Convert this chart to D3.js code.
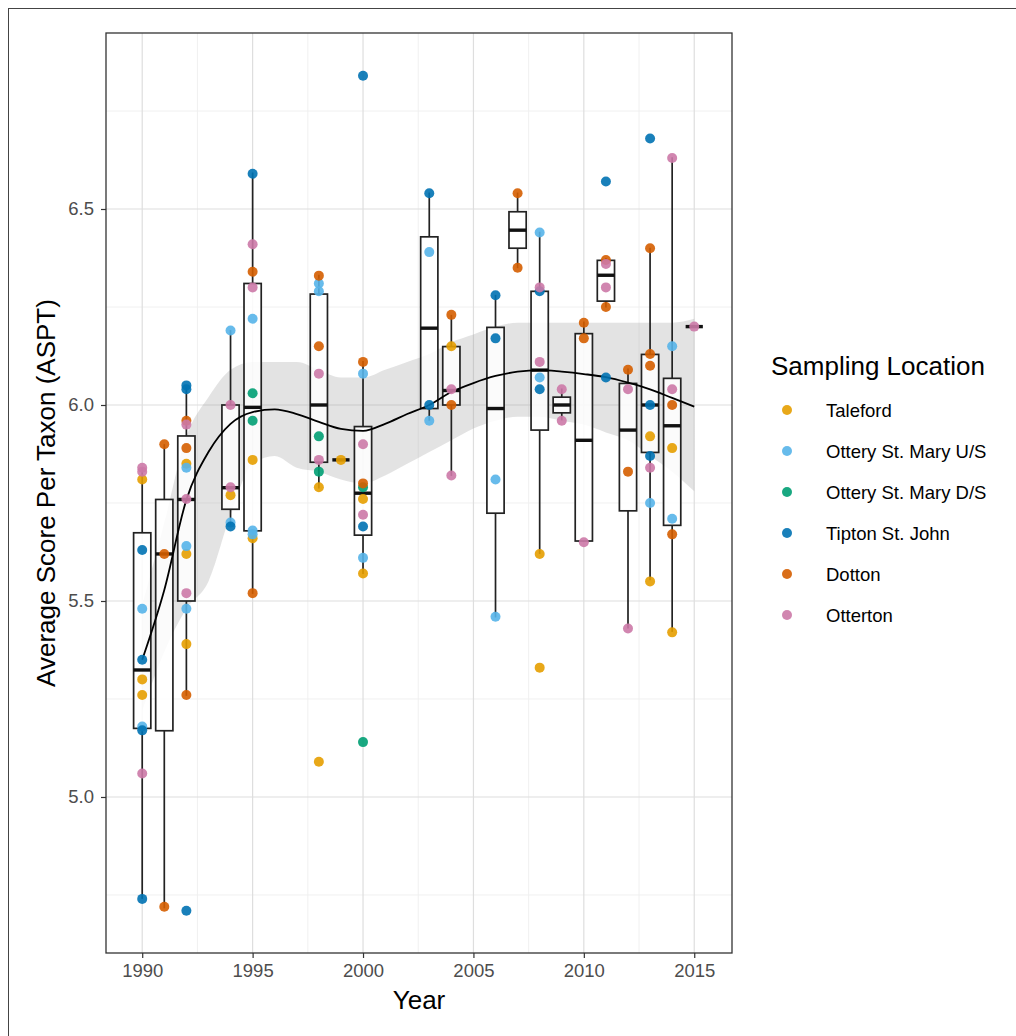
<!DOCTYPE html>
<html>
<head>
<meta charset="utf-8">
<script src="https://cdn.jsdelivr.net/npm/d3@7"></script>
<style>
  html, body { margin: 0; padding: 0; background: #fff; }
  svg { display: block; font-family: "Liberation Sans", Arial, sans-serif; }
</style>
</head>
<body>
<svg id="chart" width="1016" height="1036"></svg>
<script>
// ---------- data ----------
const sites = ["Taleford", "Ottery St. Mary U/S", "Ottery St. Mary D/S", "Tipton St. John", "Dotton", "Otterton"];
const siteColors = ["#E69F00", "#56B4E9", "#009E73", "#0072B2", "#D55E00", "#CC79A7"];

// observations: [year, ASPT]
const taleford = [[1990,5.81],[1990,5.30],[1990,5.26],[1992,5.85],[1992,5.62],[1992,5.39],[1994,5.77],[1995,5.86],[1995,5.66],
  [1998,5.79],[1998,5.09],[1999,5.86],[2000,5.76],[2000,5.57],[2004,6.15],[2008,5.62],[2008,5.33],[2013,5.92],[2013,5.55],[2014,5.89],[2014,5.42]];
const otteryUS = [[1990,5.48],[1990,5.18],[1992,5.84],[1992,5.64],[1992,5.48],[1994,6.19],[1994,5.70],[1995,6.22],[1995,5.68],[1995,5.67],
  [1998,6.31],[1998,6.29],[2000,6.08],[2000,5.61],[2003,6.39],[2003,5.96],[2006,5.81],[2006,5.46],[2008,6.44],[2008,6.07],[2013,5.75],[2014,6.15],[2014,5.71]];
const otteryDS = [[1995,6.03],[1995,5.96],[1998,5.92],[1998,5.83],[2000,5.79],[2000,5.14]];
const tipton = [[1990,5.63],[1990,5.35],[1990,5.17],[1990,4.74],[1992,6.05],[1992,6.04],[1992,4.71],[1994,5.69],[1995,6.59],
  [2000,6.84],[2000,5.69],[2003,6.54],[2003,6.00],[2006,6.28],[2006,6.17],[2008,6.29],[2008,6.04],[2011,6.57],[2011,6.07],[2013,6.68],[2013,6.00],[2013,5.87]];
const dotton = [[1991,5.90],[1991,5.62],[1991,4.72],[1992,5.96],[1992,5.89],[1992,5.26],[1995,6.34],[1995,5.52],[1998,6.33],[1998,6.15],
  [2000,6.11],[2000,5.80],[2004,6.23],[2004,6.00],[2007,6.54],[2007,6.35],[2010,6.21],[2010,6.17],[2011,6.37],[2011,6.25],
  [2012,6.09],[2012,5.83],[2013,6.40],[2013,6.13],[2013,6.10],[2014,6.00],[2014,5.67]];
const otterton = [[1990,5.84],[1990,5.83],[1990,5.06],[1992,5.95],[1992,5.76],[1992,5.52],[1994,6.00],[1994,5.79],[1995,6.41],[1995,6.30],
  [1998,6.08],[1998,5.86],[2000,5.90],[2000,5.72],[2004,6.04],[2004,5.82],[2008,6.30],[2008,6.11],[2009,6.04],[2009,5.96],[2010,5.65],
  [2011,6.36],[2011,6.30],[2012,6.04],[2012,5.43],[2013,5.84],[2014,6.04],[2014,6.63],[2015,6.20]];
const siteData = [taleford, otteryUS, otteryDS, tipton, dotton, otterton];

// box-plot statistics per year
const boxYears = [1990,1991,1992,1994,1995,1998,1999,2000,2003,2004,2006,2007,2008,2009,2010,2011,2012,2013,2014,2015];
const whiskerLow  = [4.740,4.716,5.258,5.694,5.518,5.787,5.860,5.569,5.960,5.819,5.458,6.349,5.620,5.961,5.653,6.249,5.430,5.553,5.421,6.200];
const q1          = [5.175,5.169,5.500,5.734,5.679,5.854,5.860,5.668,5.991,6.000,5.724,6.400,5.936,5.980,5.653,6.265,5.730,5.879,5.693,6.200];
const medians     = [5.324,5.620,5.759,5.789,5.994,6.000,5.860,5.775,6.196,6.037,5.991,6.446,6.089,6.000,5.910,6.331,5.936,6.000,5.947,6.200];
const q3          = [5.674,5.759,5.921,6.000,6.310,6.283,5.860,5.945,6.429,6.149,6.198,6.493,6.290,6.020,6.182,6.369,6.055,6.129,6.068,6.200];
const whiskerHigh = [5.840,5.900,6.045,6.191,6.593,6.332,5.860,6.112,6.542,6.230,6.281,6.542,6.442,6.042,6.213,6.375,6.093,6.401,6.632,6.200];

// loess smooth (fit and confidence band)
const smoothYears = [1990,1991,1992,1993,1994,1995,1996,1997,1998,1999,2000,2001,2002,2003,2004,2005,2006,2007,2008,2009,2010,2011,2012,2013,2014,2015];
const smoothFit = [5.350,5.528,5.758,5.880,5.952,5.982,5.989,5.977,5.957,5.939,5.934,5.952,5.977,6.000,6.033,6.056,6.074,6.085,6.089,6.085,6.079,6.071,6.057,6.040,6.018,5.996];
const smoothLo  = [5.22,5.37,5.48,5.55,5.72,5.85,5.87,5.84,5.83,5.81,5.80,5.82,5.85,5.88,5.91,5.94,5.96,5.97,5.97,5.96,5.95,5.93,5.91,5.87,5.83,5.78];
const smoothHi  = [5.49,5.70,5.92,6.02,6.09,6.11,6.11,6.11,6.09,6.07,6.07,6.09,6.11,6.13,6.16,6.18,6.20,6.21,6.21,6.21,6.21,6.21,6.21,6.21,6.21,6.22];

const xTicks = [1990,1995,2000,2005,2010,2015];
const xMinor = [1992.5,1997.5,2002.5,2007.5,2012.5];
const yTicks = [5.0,5.5,6.0,6.5];
const yMinor = [4.75,5.25,5.75,6.25,6.75];

// ---------- layout ----------
const svg = d3.select("#chart");
const P = {left: 106, right: 732, top: 33, bottom: 953};
const x = d3.scaleLinear().domain([1988.36, 2016.71]).range([P.left, P.right]);
const y = d3.scaleLinear().domain([4.602, 6.949]).range([P.bottom, P.top]);

// outer frame
svg.append("rect").attr("x", 8.5).attr("y", 8.5).attr("width", 1200).attr("height", 1200)
  .attr("fill", "none").attr("stroke", "#444").attr("stroke-width", 1);

const g = svg.append("g");
g.append("rect").attr("x", P.left).attr("y", P.top).attr("width", P.right-P.left).attr("height", P.bottom-P.top).attr("fill", "#fff");

// grid
g.selectAll(".ymin").data(yMinor).join("line")
  .attr("x1", P.left).attr("x2", P.right).attr("y1", d=>y(d)).attr("y2", d=>y(d))
  .attr("stroke", "#eeeeee").attr("stroke-width", 0.9);
g.selectAll(".xmin").data(xMinor).join("line")
  .attr("y1", P.top).attr("y2", P.bottom).attr("x1", d=>x(d)).attr("x2", d=>x(d))
  .attr("stroke", "#eeeeee").attr("stroke-width", 0.9);
g.selectAll(".ymaj").data(yTicks).join("line")
  .attr("x1", P.left).attr("x2", P.right).attr("y1", d=>y(d)).attr("y2", d=>y(d))
  .attr("stroke", "#dedede").attr("stroke-width", 1.2);
g.selectAll(".xmaj").data(xTicks).join("line")
  .attr("y1", P.top).attr("y2", P.bottom).attr("x1", d=>x(d)).attr("x2", d=>x(d))
  .attr("stroke", "#dedede").attr("stroke-width", 1.2);

// smooth ribbon
const smooth = smoothYears.map((yr,i)=>({yr, fit: smoothFit[i], lo: smoothLo[i], hi: smoothHi[i]}));
g.append("path").datum(smooth)
  .attr("d", d3.area().x(d=>x(d.yr)).y0(d=>y(d.lo)).y1(d=>y(d.hi)).curve(d3.curveMonotoneX))
  .attr("fill", "#999").attr("fill-opacity", 0.28);

// boxes
const boxes = boxYears.map((yr,i)=>({yr, lo: whiskerLow[i], q1: q1[i], med: medians[i], q3: q3[i], hi: whiskerHigh[i]}));
const bw = x(1990.39) - x(1990);
const bg = g.append("g");
boxes.forEach(b => {
  const cx = x(b.yr);
  bg.append("line").attr("x1", cx).attr("x2", cx).attr("y1", y(b.hi)).attr("y2", y(b.q3))
    .attr("stroke", "#222").attr("stroke-width", 1.7);
  bg.append("line").attr("x1", cx).attr("x2", cx).attr("y1", y(b.q1)).attr("y2", y(b.lo))
    .attr("stroke", "#222").attr("stroke-width", 1.7);
  bg.append("rect").attr("x", cx-bw).attr("y", y(b.q3)).attr("width", 2*bw).attr("height", Math.max(0, y(b.q1)-y(b.q3)))
    .attr("fill", "#fff").attr("fill-opacity", 0.85).attr("stroke", "#222").attr("stroke-width", 1.7);
  bg.append("line").attr("x1", cx-bw).attr("x2", cx+bw).attr("y1", y(b.med)).attr("y2", y(b.med))
    .attr("stroke", "#111").attr("stroke-width", 3.4);
});

// smooth line
g.append("path").datum(smooth)
  .attr("d", d3.line().x(d=>x(d.yr)).y(d=>y(d.fit)).curve(d3.curveMonotoneX))
  .attr("fill", "none").attr("stroke", "#000").attr("stroke-width", 1.8);

// points
siteData.forEach((arr, si) => {
  g.append("g").selectAll("circle").data(arr).join("circle")
    .attr("cx", d=>x(d[0])).attr("cy", d=>y(d[1])).attr("r", 5)
    .attr("fill", siteColors[si]).attr("fill-opacity", 0.9);
});

// panel border
g.append("rect").attr("x", P.left).attr("y", P.top).attr("width", P.right-P.left).attr("height", P.bottom-P.top)
  .attr("fill", "none").attr("stroke", "#333").attr("stroke-width", 1.3);

// axes
const xAxis = d3.axisBottom(x).tickValues(xTicks).tickFormat(d3.format("d")).tickSize(5).tickPadding(6);
const xa = svg.append("g").attr("transform", `translate(0,${P.bottom})`).call(xAxis);
xa.select(".domain").remove();
xa.selectAll(".tick line").attr("stroke", "#333").attr("stroke-width", 1.2);
xa.selectAll(".tick text").attr("fill", "#4d4d4d").style("font-size", "18.5px").attr("dy", "0.71em");

const yAxis = d3.axisLeft(y).tickValues(yTicks).tickFormat(d3.format(".1f")).tickSize(5).tickPadding(7);
const ya = svg.append("g").attr("transform", `translate(${P.left},0)`).call(yAxis);
ya.select(".domain").remove();
ya.selectAll(".tick line").attr("stroke", "#333").attr("stroke-width", 1.2);
ya.selectAll(".tick text").attr("fill", "#4d4d4d").style("font-size", "18.5px");

// titles
svg.append("text").attr("x", (P.left+P.right)/2).attr("y", 1009).attr("text-anchor", "middle")
  .style("font-size", "26px").attr("fill", "#000").text("Year");
svg.append("text").attr("transform", `translate(55,${(P.top+P.bottom)/2}) rotate(-90)`).attr("text-anchor", "middle")
  .style("font-size", "26px").attr("fill", "#000").text("Average Score Per Taxon (ASPT)");

// legend
const lg = svg.append("g");
lg.append("text").attr("x", 771).attr("y", 375).style("font-size", "26px").attr("fill", "#000").text("Sampling Location");
sites.forEach((s, i) => {
  const cy = 410 + i*41;
  lg.append("circle").attr("cx", 787).attr("cy", cy).attr("r", 5).attr("fill", siteColors[i]).attr("fill-opacity", 0.9);
  lg.append("text").attr("x", 826).attr("y", cy + 6.5).style("font-size", "18.5px").attr("fill", "#000").text(s);
});
</script>
</body>
</html>
